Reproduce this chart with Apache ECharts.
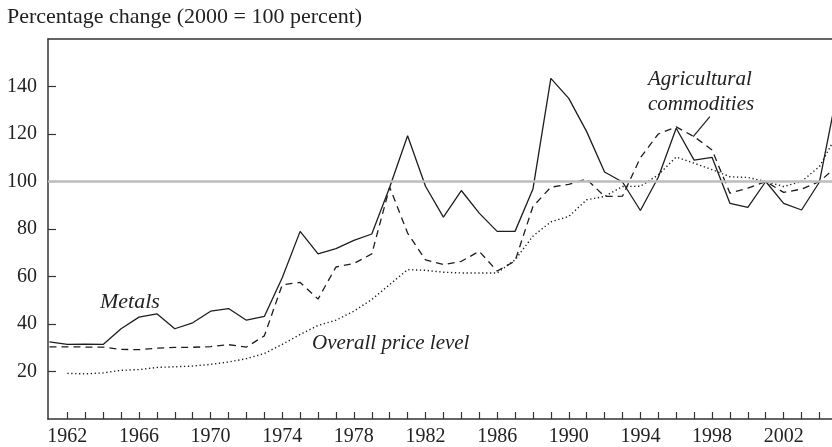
<!DOCTYPE html>
<html>
<head>
<meta charset="utf-8">
<script src="https://cdn.jsdelivr.net/npm/echarts@6/dist/echarts.min.js"></script>
<style>
html,body{margin:0;padding:0;background:#fff;}
#chart{width:832px;height:447px;}
</style>
</head>
<body>
<div id="chart"></div>
<script>
// ---- Data ----
const years = [1961,1962,1963,1964,1965,1966,1967,1968,1969,1970,1971,1972,1973,1974,1975,1976,1977,1978,1979,1980,1981,1982,1983,1984,1985,1986,1987,1988,1989,1990,1991,1992,1993,1994,1995,1996,1997,1998,1999,2000,2001,2002,2003,2004,2005];
const metals = [32.5,31.4,31.5,31.4,38,42.9,44.3,38,40.5,45.4,46.5,41.6,43.2,59.5,79,69.5,71.7,75.2,77.9,97.6,119.3,98,85,96.2,86.7,79,79,96.8,143.4,135,121,104,99.8,87.8,101.8,122.4,109,110.2,90.8,89.1,100,90.8,88,99.8,138];
const agricultural = [30.4,30.4,30.3,30.3,29.3,29.2,29.8,30.2,30.2,30.5,31.3,30.3,35,56.5,57.5,50.5,64,65.5,69.5,97.6,78.3,67,65,66.4,70.6,62.3,66.5,89.5,97.6,98.8,101,93.7,93.8,110,120,123,118.9,113.3,95.1,97.2,100,95.4,96.8,100,106.5];
const overallPrice = [null,19.2,19.0,19.4,20.5,20.8,21.7,22,22.3,23,24,25.4,27.6,31.4,35.6,39.4,41.6,45.4,50.3,56.6,62.9,62.6,61.8,61.5,61.5,61.5,67,77,83,85.3,92.3,93.7,97.9,98,102.8,110.3,107.7,105,102,101.7,100,97.9,100,106.3,120];
const tickYears = [1962,1963,1964,1965,1966,1967,1968,1969,1970,1971,1972,1973,1974,1975,1976,1977,1978,1979,1980,1981,1982,1983,1984,1985,1986,1987,1988,1989,1990,1991,1992,1993,1994,1995,1996,1997,1998,1999,2000,2001,2002,2003,2004];
const labelYears = [1962,1966,1970,1974,1978,1982,1986,1990,1994,1998,2002];
const yTicks = [20,40,60,80,100,120,140];
const baseValue = 100;

const titleText = 'Percentage change (2000 = 100 percent)';
const seriesNames = ['Metals','Agricultural commodities','Overall price level'];

// ---- Chart ----
const chart = echarts.init(document.getElementById('chart'), null, {renderer:'canvas'});
const serif = '"Liberation Serif", "Times New Roman", serif';
const ink = '#1e1e1e';
const xMin = 1960.92, xMax = 2004.7;

function pairs(vals){ return years.map((y,i)=>[y, vals[i]]); }

const option = {
  animation: false,
  backgroundColor: '#fff',
  grid: {left: 48, top: 39, right: 0, bottom: 28, containLabel: false},
  xAxis: [{
    type: 'value', min: xMin, max: xMax, position: 'bottom',
    axisLine: {show: true, lineStyle: {color: '#333', width: 1.5}},
    axisTick: {show: true, inside: true, length: 7, customValues: tickYears, lineStyle: {color: '#333', width: 1.2}},
    axisLabel: {show: true, customValues: labelYears, fontFamily: serif, fontSize: 20, color: '#222', margin: 8,
      formatter: v => String(Math.round(v))},
    splitLine: {show: false}
  },{
    type: 'value', min: xMin, max: xMax, position: 'top',
    axisLine: {show: true, lineStyle: {color: '#333', width: 1.5}},
    axisTick: {show: false}, axisLabel: {show: false}, splitLine: {show: false}
  }],
  yAxis: {
    type: 'value', min: 0, max: 160,
    axisLine: {show: true, lineStyle: {color: '#333', width: 1.5}},
    axisTick: {show: true, inside: true, length: 8, customValues: yTicks, lineStyle: {color: '#333', width: 1.2}},
    axisLabel: {show: true, customValues: yTicks, fontFamily: serif, fontSize: 20, color: '#222', margin: 11},
    splitLine: {show: false}
  },
  series: [
    {
      type: 'line', name: 'base', data: [], z: 1, silent: true,
      markLine: {silent: true, symbol: 'none', label: {show: false},
        lineStyle: {color: '#bdbdbd', width: 2.5, type: 'solid'},
        data: [{yAxis: baseValue}]}
    },
    {
      type: 'line', name: seriesNames[2], data: pairs(overallPrice), showSymbol: false, z: 2,
      lineStyle: {color: ink, width: 1.4, type: [1.3, 2.6]}, connectNulls: false
    },
    {
      type: 'line', name: seriesNames[1], data: pairs(agricultural), showSymbol: false, z: 3,
      lineStyle: {color: ink, width: 1.3, type: [7, 5]}
    },
    {
      type: 'line', name: seriesNames[0], data: pairs(metals), showSymbol: false, z: 4,
      lineStyle: {color: ink, width: 1.3, type: 'solid'}
    }
  ]
};
chart.setOption(option);

const p1 = chart.convertToPixel({gridIndex: 0}, [1997.88, 127.3]);
const p2 = chart.convertToPixel({gridIndex: 0}, [1996.95, 118.9]);
const italic = 'italic 21px ' + serif;
chart.setOption({
  graphic: [
    {type: 'text', x: 7, y: 17.3, style: {text: titleText, font: 'normal 22px ' + serif, fill: '#222', verticalAlign: 'middle', align: 'left'}},
    {type: 'text', x: 100, y: 302, style: {text: seriesNames[0], font: 'italic 22px ' + serif, fill: '#222', verticalAlign: 'middle', align: 'left'}},
    {type: 'text', x: 312, y: 343.7, style: {text: seriesNames[2], font: italic, fill: '#222', verticalAlign: 'middle', align: 'left'}},
    {type: 'text', x: 648, y: 79.7, style: {text: 'Agricultural', font: italic, fill: '#222', verticalAlign: 'middle', align: 'left'}},
    {type: 'text', x: 648, y: 104.7, style: {text: 'commodities', font: italic, fill: '#222', verticalAlign: 'middle', align: 'left'}},
    {type: 'line', shape: {x1: p1[0], y1: p1[1], x2: p2[0], y2: p2[1]}, style: {stroke: ink, lineWidth: 1.2}}
  ]
});
</script>
</body>
</html>
